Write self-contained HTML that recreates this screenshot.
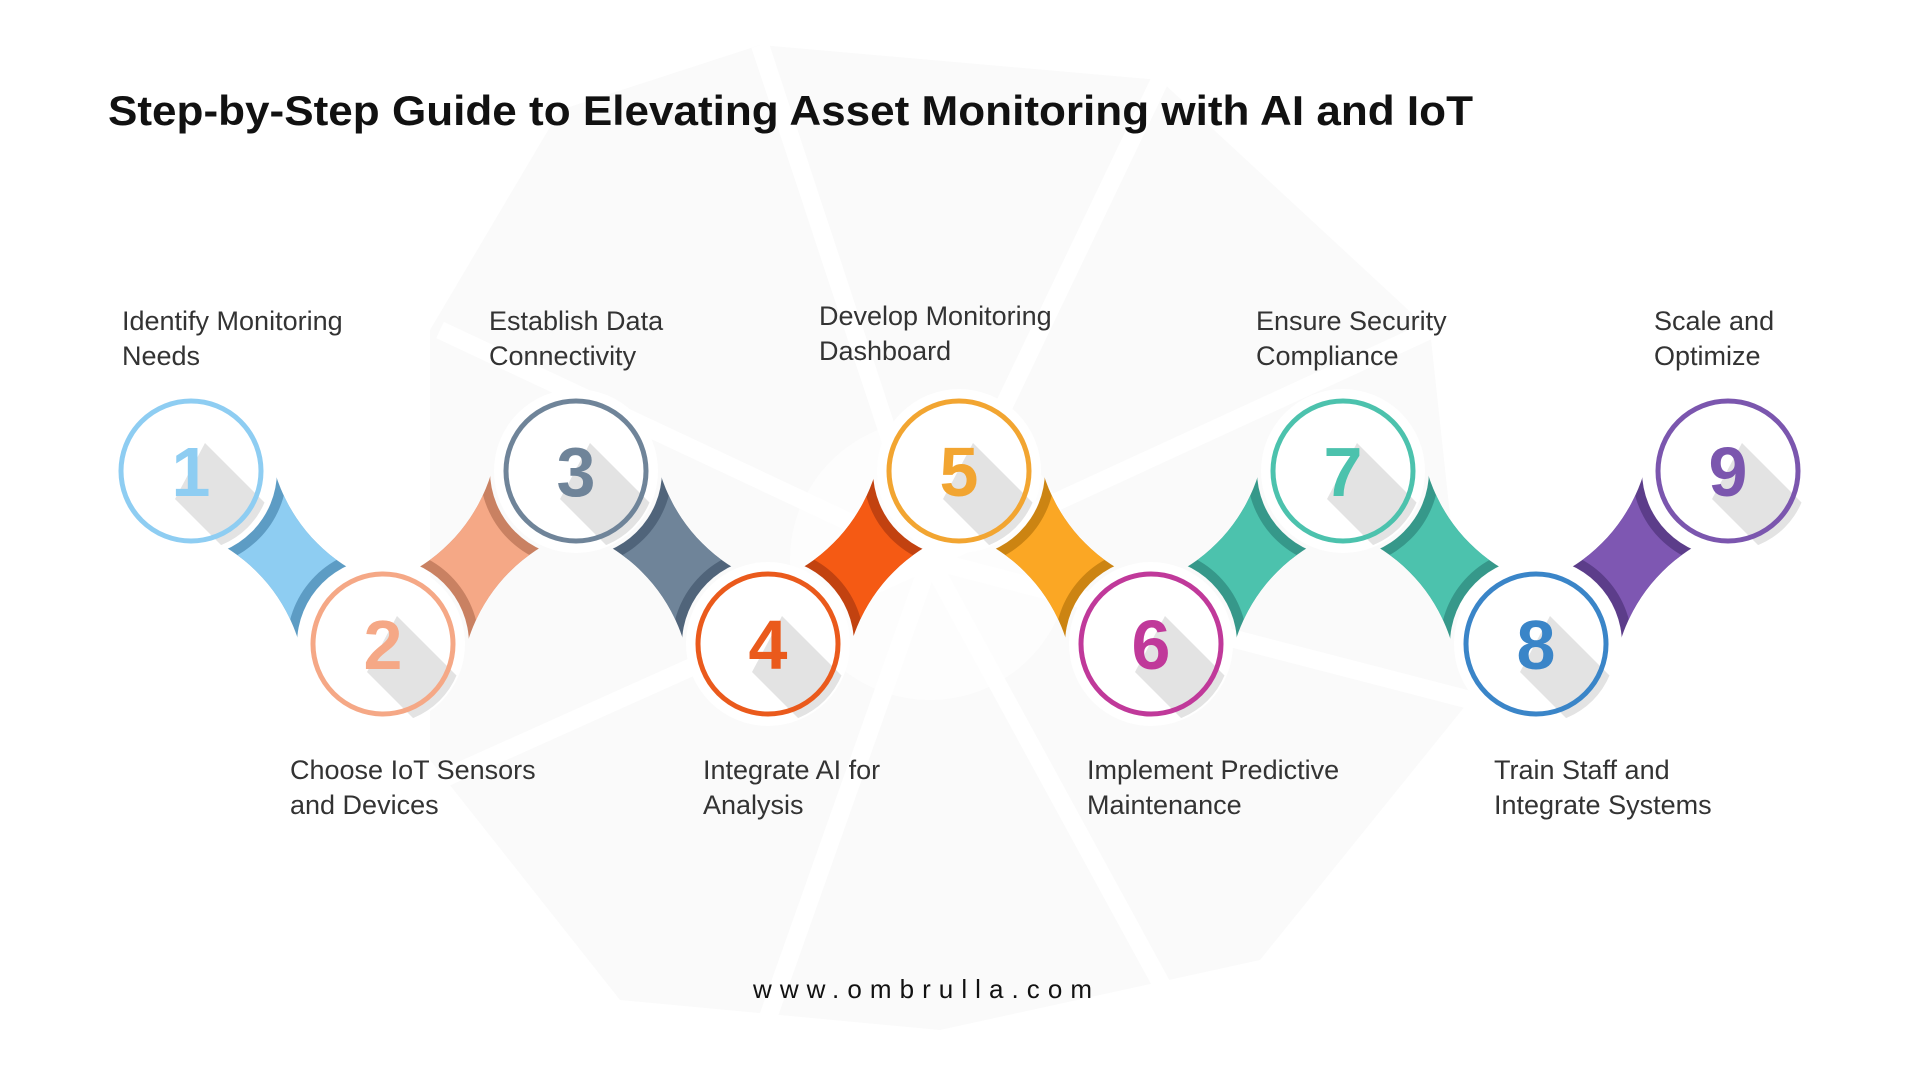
<!DOCTYPE html>
<html><head><meta charset="utf-8"><style>
html,body{margin:0;padding:0;background:#fff;}
svg{display:block;}
text{font-family:"Liberation Sans",Arial,sans-serif;}
</style></head><body>
<svg width="1920" height="1080" viewBox="0 0 1920 1080" xmlns="http://www.w3.org/2000/svg">
<defs>
<clipPath id="cc"><circle cx="0" cy="0" r="80"/></clipPath>
</defs>
<!-- faint background umbrella -->
<polygon points="760,45 1160,80 1430,330 1470,700 1260,960 940,1030 620,1000 430,760 430,330 560,110" fill="#fafafa"/>
<g stroke="#fff" stroke-width="18" fill="none">
<line x1="930" y1="560" x2="760" y2="45"/><line x1="930" y1="560" x2="1160" y2="80"/>
<line x1="930" y1="560" x2="1430" y2="330"/><line x1="930" y1="560" x2="1470" y2="700"/>
<line x1="930" y1="560" x2="1170" y2="1000"/><line x1="930" y1="560" x2="760" y2="1040"/>
<line x1="930" y1="560" x2="440" y2="780"/><line x1="930" y1="560" x2="440" y2="330"/>
</g>
<circle cx="930" cy="560" r="140" fill="#fff" opacity="0.6"/>

<text x="108" y="125" font-size="42" font-weight="bold" fill="#111" textLength="1365" lengthAdjust="spacingAndGlyphs">Step-by-Step Guide to Elevating Asset Monitoring with AI and IoT</text>

<defs>
<!-- down pairs -->
<mask id="m1d" maskUnits="userSpaceOnUse"><rect x="191" y="471" width="192" height="173" fill="#fff"/><circle cx="191" cy="471" r="86"/><circle cx="383" cy="644" r="86"/><circle cx="436" cy="424.5" r="168"/><circle cx="138" cy="690.5" r="168"/></mask>
<mask id="m1l" maskUnits="userSpaceOnUse"><rect x="191" y="471" width="192" height="173" fill="#fff"/><circle cx="191" cy="471" r="96"/><circle cx="383" cy="644" r="96"/><circle cx="436" cy="424.5" r="168"/><circle cx="138" cy="690.5" r="168"/></mask>
<mask id="m3d" maskUnits="userSpaceOnUse"><rect x="576" y="471" width="192" height="173" fill="#fff"/><circle cx="576" cy="471" r="86"/><circle cx="768" cy="644" r="86"/><circle cx="821" cy="424.5" r="168"/><circle cx="523" cy="690.5" r="168"/></mask>
<mask id="m3l" maskUnits="userSpaceOnUse"><rect x="576" y="471" width="192" height="173" fill="#fff"/><circle cx="576" cy="471" r="96"/><circle cx="768" cy="644" r="96"/><circle cx="821" cy="424.5" r="168"/><circle cx="523" cy="690.5" r="168"/></mask>
<mask id="m5d" maskUnits="userSpaceOnUse"><rect x="959" y="471" width="192" height="173" fill="#fff"/><circle cx="959" cy="471" r="86"/><circle cx="1151" cy="644" r="86"/><circle cx="1204" cy="424.5" r="168"/><circle cx="906" cy="690.5" r="168"/></mask>
<mask id="m5l" maskUnits="userSpaceOnUse"><rect x="959" y="471" width="192" height="173" fill="#fff"/><circle cx="959" cy="471" r="96"/><circle cx="1151" cy="644" r="96"/><circle cx="1204" cy="424.5" r="168"/><circle cx="906" cy="690.5" r="168"/></mask>
<mask id="m7d" maskUnits="userSpaceOnUse"><rect x="1343" y="471" width="193" height="173" fill="#fff"/><circle cx="1343" cy="471" r="86"/><circle cx="1536" cy="644" r="86"/><circle cx="1588.5" cy="424.5" r="168"/><circle cx="1290.5" cy="690.5" r="168"/></mask>
<mask id="m7l" maskUnits="userSpaceOnUse"><rect x="1343" y="471" width="193" height="173" fill="#fff"/><circle cx="1343" cy="471" r="96"/><circle cx="1536" cy="644" r="96"/><circle cx="1588.5" cy="424.5" r="168"/><circle cx="1290.5" cy="690.5" r="168"/></mask>
<!-- up pairs -->
<mask id="m2d" maskUnits="userSpaceOnUse"><rect x="383" y="471" width="193" height="173" fill="#fff"/><circle cx="383" cy="644" r="86"/><circle cx="576" cy="471" r="86"/><circle cx="330.5" cy="424.5" r="168"/><circle cx="628.5" cy="690.5" r="168"/></mask>
<mask id="m2l" maskUnits="userSpaceOnUse"><rect x="383" y="471" width="193" height="173" fill="#fff"/><circle cx="383" cy="644" r="96"/><circle cx="576" cy="471" r="96"/><circle cx="330.5" cy="424.5" r="168"/><circle cx="628.5" cy="690.5" r="168"/></mask>
<mask id="m4d" maskUnits="userSpaceOnUse"><rect x="768" y="471" width="191" height="173" fill="#fff"/><circle cx="768" cy="644" r="86"/><circle cx="959" cy="471" r="86"/><circle cx="714.5" cy="424.5" r="168"/><circle cx="1012.5" cy="690.5" r="168"/></mask>
<mask id="m4l" maskUnits="userSpaceOnUse"><rect x="768" y="471" width="191" height="173" fill="#fff"/><circle cx="768" cy="644" r="96"/><circle cx="959" cy="471" r="96"/><circle cx="714.5" cy="424.5" r="168"/><circle cx="1012.5" cy="690.5" r="168"/></mask>
<mask id="m6d" maskUnits="userSpaceOnUse"><rect x="1151" y="471" width="192" height="173" fill="#fff"/><circle cx="1151" cy="644" r="86"/><circle cx="1343" cy="471" r="86"/><circle cx="1098" cy="424.5" r="168"/><circle cx="1396" cy="690.5" r="168"/></mask>
<mask id="m6l" maskUnits="userSpaceOnUse"><rect x="1151" y="471" width="192" height="173" fill="#fff"/><circle cx="1151" cy="644" r="96"/><circle cx="1343" cy="471" r="96"/><circle cx="1098" cy="424.5" r="168"/><circle cx="1396" cy="690.5" r="168"/></mask>
<mask id="m8d" maskUnits="userSpaceOnUse"><rect x="1536" y="471" width="192" height="173" fill="#fff"/><circle cx="1536" cy="644" r="86"/><circle cx="1728" cy="471" r="86"/><circle cx="1483" cy="424.5" r="168"/><circle cx="1781" cy="690.5" r="168"/></mask>
<mask id="m8l" maskUnits="userSpaceOnUse"><rect x="1536" y="471" width="192" height="173" fill="#fff"/><circle cx="1536" cy="644" r="96"/><circle cx="1728" cy="471" r="96"/><circle cx="1483" cy="424.5" r="168"/><circle cx="1781" cy="690.5" r="168"/></mask>
</defs>
<rect x="191" y="471" width="192" height="173" fill="#5d9cc4" mask="url(#m1d)"/>
<rect x="191" y="471" width="192" height="173" fill="#8ecdf2" mask="url(#m1l)"/>
<rect x="383" y="471" width="193" height="173" fill="#c98162" mask="url(#m2d)"/>
<rect x="383" y="471" width="193" height="173" fill="#f5a886" mask="url(#m2l)"/>
<rect x="576" y="471" width="192" height="173" fill="#50647a" mask="url(#m3d)"/>
<rect x="576" y="471" width="192" height="173" fill="#6f8499" mask="url(#m3l)"/>
<rect x="768" y="471" width="191" height="173" fill="#c24210" mask="url(#m4d)"/>
<rect x="768" y="471" width="191" height="173" fill="#f55a14" mask="url(#m4l)"/>
<rect x="959" y="471" width="192" height="173" fill="#cc8412" mask="url(#m5d)"/>
<rect x="959" y="471" width="192" height="173" fill="#fba724" mask="url(#m5l)"/>
<rect x="1151" y="471" width="192" height="173" fill="#36988a" mask="url(#m6d)"/>
<rect x="1151" y="471" width="192" height="173" fill="#4cc2ad" mask="url(#m6l)"/>
<rect x="1343" y="471" width="193" height="173" fill="#36988a" mask="url(#m7d)"/>
<rect x="1343" y="471" width="193" height="173" fill="#4cc2ad" mask="url(#m7l)"/>
<rect x="1536" y="471" width="192" height="173" fill="#5c3d8a" mask="url(#m8d)"/>
<rect x="1536" y="471" width="192" height="173" fill="#7e57b2" mask="url(#m8l)"/>

<g font-weight="bold" font-size="70" text-anchor="middle">
<g transform="translate(191,471)"><circle r="82" fill="#fff"/><polygon points="-16,28 14,-28 134,92 104,148" fill="#e3e3e3" clip-path="url(#cc)"/><circle r="70" fill="none" stroke="#8ecdf2" stroke-width="5"/><text x="0" y="25" fill="#8ecdf2">1</text></g>
<g transform="translate(383,644)"><circle r="82" fill="#fff"/><polygon points="-16,28 14,-28 134,92 104,148" fill="#e3e3e3" clip-path="url(#cc)"/><circle r="70" fill="none" stroke="#f5a886" stroke-width="5"/><text x="0" y="25" fill="#f5a886">2</text></g>
<g transform="translate(576,471)"><circle r="82" fill="#fff"/><polygon points="-16,28 14,-28 134,92 104,148" fill="#e3e3e3" clip-path="url(#cc)"/><circle r="70" fill="none" stroke="#6f8499" stroke-width="5"/><text x="0" y="25" fill="#6f8499">3</text></g>
<g transform="translate(768,644)"><circle r="82" fill="#fff"/><polygon points="-16,28 14,-28 134,92 104,148" fill="#e3e3e3" clip-path="url(#cc)"/><circle r="70" fill="none" stroke="#ea5a1c" stroke-width="5"/><text x="0" y="25" fill="#ea5a1c">4</text></g>
<g transform="translate(959,471)"><circle r="82" fill="#fff"/><polygon points="-16,28 14,-28 134,92 104,148" fill="#e3e3e3" clip-path="url(#cc)"/><circle r="70" fill="none" stroke="#f2a531" stroke-width="5"/><text x="0" y="25" fill="#f2a531">5</text></g>
<g transform="translate(1151,644)"><circle r="82" fill="#fff"/><polygon points="-16,28 14,-28 134,92 104,148" fill="#e3e3e3" clip-path="url(#cc)"/><circle r="70" fill="none" stroke="#c0399a" stroke-width="5"/><text x="0" y="25" fill="#c0399a">6</text></g>
<g transform="translate(1343,471)"><circle r="82" fill="#fff"/><polygon points="-16,28 14,-28 134,92 104,148" fill="#e3e3e3" clip-path="url(#cc)"/><circle r="70" fill="none" stroke="#4cc2ad" stroke-width="5"/><text x="0" y="25" fill="#4cc2ad">7</text></g>
<g transform="translate(1536,644)"><circle r="82" fill="#fff"/><polygon points="-16,28 14,-28 134,92 104,148" fill="#e3e3e3" clip-path="url(#cc)"/><circle r="70" fill="none" stroke="#3a85c8" stroke-width="5"/><text x="0" y="25" fill="#3a85c8">8</text></g>
<g transform="translate(1728,471)"><circle r="82" fill="#fff"/><polygon points="-16,28 14,-28 134,92 104,148" fill="#e3e3e3" clip-path="url(#cc)"/><circle r="70" fill="none" stroke="#7b56ae" stroke-width="5"/><text x="0" y="25" fill="#7b56ae">9</text></g>
</g>

<g font-size="27" fill="#333">
<text x="122" y="330">Identify Monitoring</text><text x="122" y="365">Needs</text>
<text x="489" y="330">Establish Data</text><text x="489" y="365">Connectivity</text>
<text x="819" y="325">Develop Monitoring</text><text x="819" y="360">Dashboard</text>
<text x="1256" y="330">Ensure Security</text><text x="1256" y="365">Compliance</text>
<text x="1654" y="330">Scale and</text><text x="1654" y="365">Optimize</text>
<text x="290" y="779">Choose IoT Sensors</text><text x="290" y="814">and Devices</text>
<text x="703" y="779">Integrate AI for</text><text x="703" y="814">Analysis</text>
<text x="1087" y="779">Implement Predictive</text><text x="1087" y="814">Maintenance</text>
<text x="1494" y="779">Train Staff and</text><text x="1494" y="814">Integrate Systems</text>
</g>

<text x="753" y="998" font-size="26" fill="#111" textLength="339" lengthAdjust="spacing">www.ombrulla.com</text>
</svg>
</body></html>
